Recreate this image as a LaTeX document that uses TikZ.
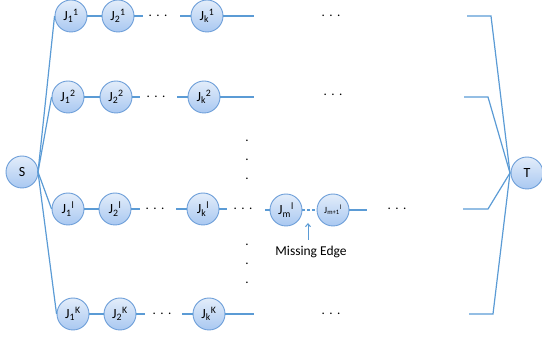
\documentclass[tikz,border=0pt]{standalone}
\usepackage{fontspec}
\setmainfont{Carlito}
\usetikzlibrary{arrows.meta}
\definecolor{edgeblue}{HTML}{5B9BD5}
\definecolor{ringblue}{HTML}{6E9FD9}
\definecolor{filltop}{HTML}{E3EDFA}
\definecolor{fillbot}{HTML}{A9C8F1}
\tikzset{
  jnode/.style={circle, draw=ringblue, line width=0.9pt, top color=filltop, bottom color=fillbot,
    minimum size=32pt, inner sep=0pt, font=\fontsize{14}{16}\selectfont},
  conn/.style={draw=edgeblue, line width=1.2pt},
  hdots/.style={inner sep=0pt, font=\fontsize{13}{15}\selectfont},
  vdot/.style={inner sep=0pt, font=\fontsize{13}{15}\selectfont},
  lbl/.style={inner sep=0pt, font=\fontsize{13.5}{16}\selectfont}
}
\newcommand{\hd}{.\hspace{4.5pt}.\hspace{4.5pt}.}
\begin{document}
\begin{tikzpicture}[x=1pt,y=-1pt]
\useasboundingbox (0,0) rectangle (542,339);
% S and T
\node[jnode] (S) at (22,172) {S};
\node[jnode] (T) at (527,173) {T};
% row 1
\node[jnode] (a1) at (71,16) {J\textsubscript{1}\textsuperscript{1}};
\node[jnode] (a2) at (118,16) {J\textsubscript{2}\textsuperscript{1}};
\node[hdots] (ad) at (158,16) {\hd};
\node[jnode] (ak) at (207,16) {J\textsubscript{k}\textsuperscript{1}};
\node[hdots] (ae) at (331,16) {\hd};
\coordinate (as1) at (143,16); \coordinate (as2) at (180,16);
\coordinate (aend) at (254,16);
\coordinate (ar1) at (467,16); \coordinate (ar2) at (491,16);
% row 2
\node[jnode] (b1) at (68,97) {J\textsubscript{1}\textsuperscript{2}};
\node[jnode] (b2) at (116,97) {J\textsubscript{2}\textsuperscript{2}};
\node[hdots] (bd) at (156,97) {\hd};
\node[jnode] (bk) at (204,97) {J\textsubscript{k}\textsuperscript{2}};
\node[hdots] (be) at (333,95) {\hd};
\coordinate (bs1) at (140,97); \coordinate (bs2) at (177,97);
\coordinate (bend) at (254,97);
\coordinate (br1) at (464,97); \coordinate (br2) at (488,97);
% row l
\node[jnode] (c1) at (68,209) {J\textsubscript{1}\textsuperscript{l}};
\node[jnode] (c2) at (115,209) {J\textsubscript{2}\textsuperscript{l}};
\node[hdots] (cd) at (155,209) {\hd};
\node[jnode] (ck) at (203,209) {J\textsubscript{k}\textsuperscript{l}};
\node[hdots] (cd2) at (243,209) {\hd};
\node[jnode] (cm) at (286,210) {J\textsubscript{m}\textsuperscript{l}};
\node[jnode, font=\fontsize{9.5}{11}\selectfont] (cn) at (333,210) {J\textsubscript{m+1}\textsuperscript{l}};
\node[hdots] (ce) at (397,209) {\hd};
\coordinate (cs1) at (140,209); \coordinate (cs2) at (176,209);
\coordinate (cs3) at (227,209); \coordinate (cs4) at (265,210);
\coordinate (cend) at (367,210);
\coordinate (cr1) at (463,209); \coordinate (cr2) at (488,209);
% row K
\node[jnode] (d1) at (73,314) {J\textsubscript{1}\textsuperscript{K}};
\node[jnode] (d2) at (120,314) {J\textsubscript{2}\textsuperscript{K}};
\node[hdots] (dd) at (162,314) {\hd};
\node[jnode] (dk) at (209,314) {J\textsubscript{k}\textsuperscript{K}};
\node[hdots] (de) at (331,314) {\hd};
\coordinate (ds1) at (145,314); \coordinate (ds2) at (182,314);
\coordinate (dend) at (254,314);
\coordinate (dr1) at (469,314); \coordinate (dr2) at (493,314);
% vertical dots
\foreach \yy in {143,162,181,247,266,285} \node[vdot] at (247,\yy-2) {.};
% connectors
\coordinate (sx) at (38,172);
\coordinate (tx) at (510,173);
\draw[conn] (sx) -- (a1.west);
\draw[conn] (sx) -- (b1.west);
\draw[conn] (sx) -- (c1.west);
\draw[conn] (sx) -- (d1.west);
\draw[conn] (a1) -- (a2); \draw[conn] (a2.east) -- (as1); \draw[conn] (as2) -- (ak.west); \draw[conn] (ak.east) -- (aend);
\draw[conn] (b1) -- (b2); \draw[conn] (b2.east) -- (bs1); \draw[conn] (bs2) -- (bk.west); \draw[conn] (bk.east) -- (bend);
\draw[conn] (c1) -- (c2); \draw[conn] (c2.east) -- (cs1); \draw[conn] (cs2) -- (ck.west); \draw[conn] (ck.east) -- (cs3);
\draw[conn] (cs4) -- (cm.west); \draw[conn, dash pattern=on 3pt off 2pt] (cm.east) -- (cn.west); \draw[conn] (cn.east) -- (cend);
\draw[conn] (d1) -- (d2); \draw[conn] (d2.east) -- (ds1); \draw[conn] (ds2) -- (dk.west); \draw[conn] (dk.east) -- (dend);
\draw[conn] (ar1) -- (ar2) -- (tx);
\draw[conn] (br1) -- (br2) -- (tx);
\draw[conn] (cr1) -- (cr2) -- (tx);
\draw[conn] (dr1) -- (dr2) -- (tx);
% missing edge
\node[lbl] (me) at (311,252) {Missing Edge};
\coordinate (arrtip) at (308,223);
\draw[draw=edgeblue, line width=1pt, -{Straight Barb[length=3pt,width=5pt]}] (308,240) -- (arrtip);
\end{tikzpicture}
\end{document}
